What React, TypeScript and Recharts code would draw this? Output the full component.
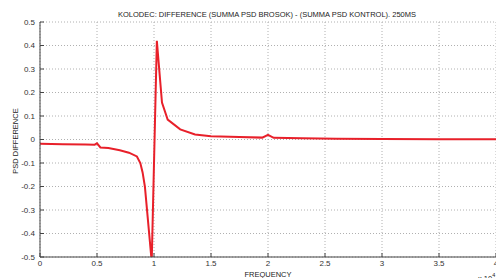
import * as React from 'react'
import {
    LineChart,
    Line,
    XAxis,
    YAxis,
    CartesianGrid,
} from 'recharts'

// frequency in units of 10^4
const freq = [
    0, 0.2, 0.4, 0.48, 0.5, 0.53, 0.6, 0.7, 0.78, 0.85, 0.88, 0.9, 0.92,
    0.98, 1.025, 1.07, 1.12, 1.23, 1.36, 1.5, 1.75, 1.95, 2.0, 2.05, 2.3,
    2.6, 3.0, 3.5, 4.0,
]
const psdDiff = [
    -0.018, -0.02, -0.021, -0.022, -0.016, -0.034, -0.036, -0.046, -0.056,
    -0.072, -0.1, -0.14, -0.2, -0.52, 0.42, 0.157, 0.085, 0.043, 0.021,
    0.014, 0.011, 0.008, 0.02, 0.007, 0.005, 0.003, 0.002, 0.001, 0.001,
]
const xTicks = [0, 0.5, 1, 1.5, 2, 2.5, 3, 3.5, 4]
const yTicks = [-0.5, -0.4, -0.3, -0.2, -0.1, 0, 0.1, 0.2, 0.3, 0.4, 0.5]

const data = freq.map((f, i) => ({ f, v: psdDiff[i] }))

const font = '"Liberation Sans", Arial, sans-serif'
const tickStyle = { fontSize: 8, fill: '#333', fontFamily: font }
const noLabel = () => <g />

export default function App() {
    return (
        <div style={{ position: 'absolute', left: 0, top: 0, width: 496, height: 278, overflow: 'hidden', background: '#fff' }}>
            <LineChart width={500} height={278} data={data} margin={{ top: 22, right: 4, bottom: 0, left: 0 }}>
                <CartesianGrid stroke="#b0b0b0" strokeDasharray="1 2" horizontal vertical />
                <XAxis dataKey="f" type="number" domain={[0, 4]} ticks={xTicks} height={21}
                    tickSize={-4} tickMargin={7} tick={tickStyle} stroke="#444" interval={0} />
                <XAxis xAxisId="top" orientation="top" dataKey="f" type="number" domain={[0, 4]} ticks={xTicks}
                    height={0} tickSize={-4} tick={noLabel} stroke="#444" interval={0} />
                <YAxis type="number" domain={[-0.5, 0.5]} ticks={yTicks} width={40} allowDataOverflow
                    tickSize={-4} tickMargin={9} tick={tickStyle} stroke="#444" interval={0}
                    tickFormatter={(v: number) => String(v)} />
                <YAxis yAxisId="right" orientation="right" type="number" domain={[-0.5, 0.5]} ticks={yTicks}
                    width={0} tickSize={-4} tick={noLabel} stroke="#444" interval={0} />
                <Line dataKey="v" stroke="#e8202a" strokeWidth={2} dot={false} isAnimationActive={false} />
                <text x={267} y={17} textAnchor="middle" fontSize={7.5} fontFamily={font} fill="#222">
                    KOLODEC: DIFFERENCE (SUMMA PSD BROSOK) - (SUMMA PSD KONTROL). 250MS
                </text>
                <text x={268} y={277} textAnchor="middle" fontSize={7.5} fontFamily={font} fill="#222">
                    FREQUENCY
                </text>
                <text x={0} y={0} transform="translate(18,141) rotate(-90)" textAnchor="middle" fontSize={7.5} fontFamily={font} fill="#222">
                    PSD DIFFERENCE
                </text>
                <text x={478} y={281} fontSize={7.5} fontFamily={font} fill="#222">
                    x 10<tspan fontSize={5.5} dy={-4}>4</tspan>
                </text>
            </LineChart>
        </div>
    )
}
